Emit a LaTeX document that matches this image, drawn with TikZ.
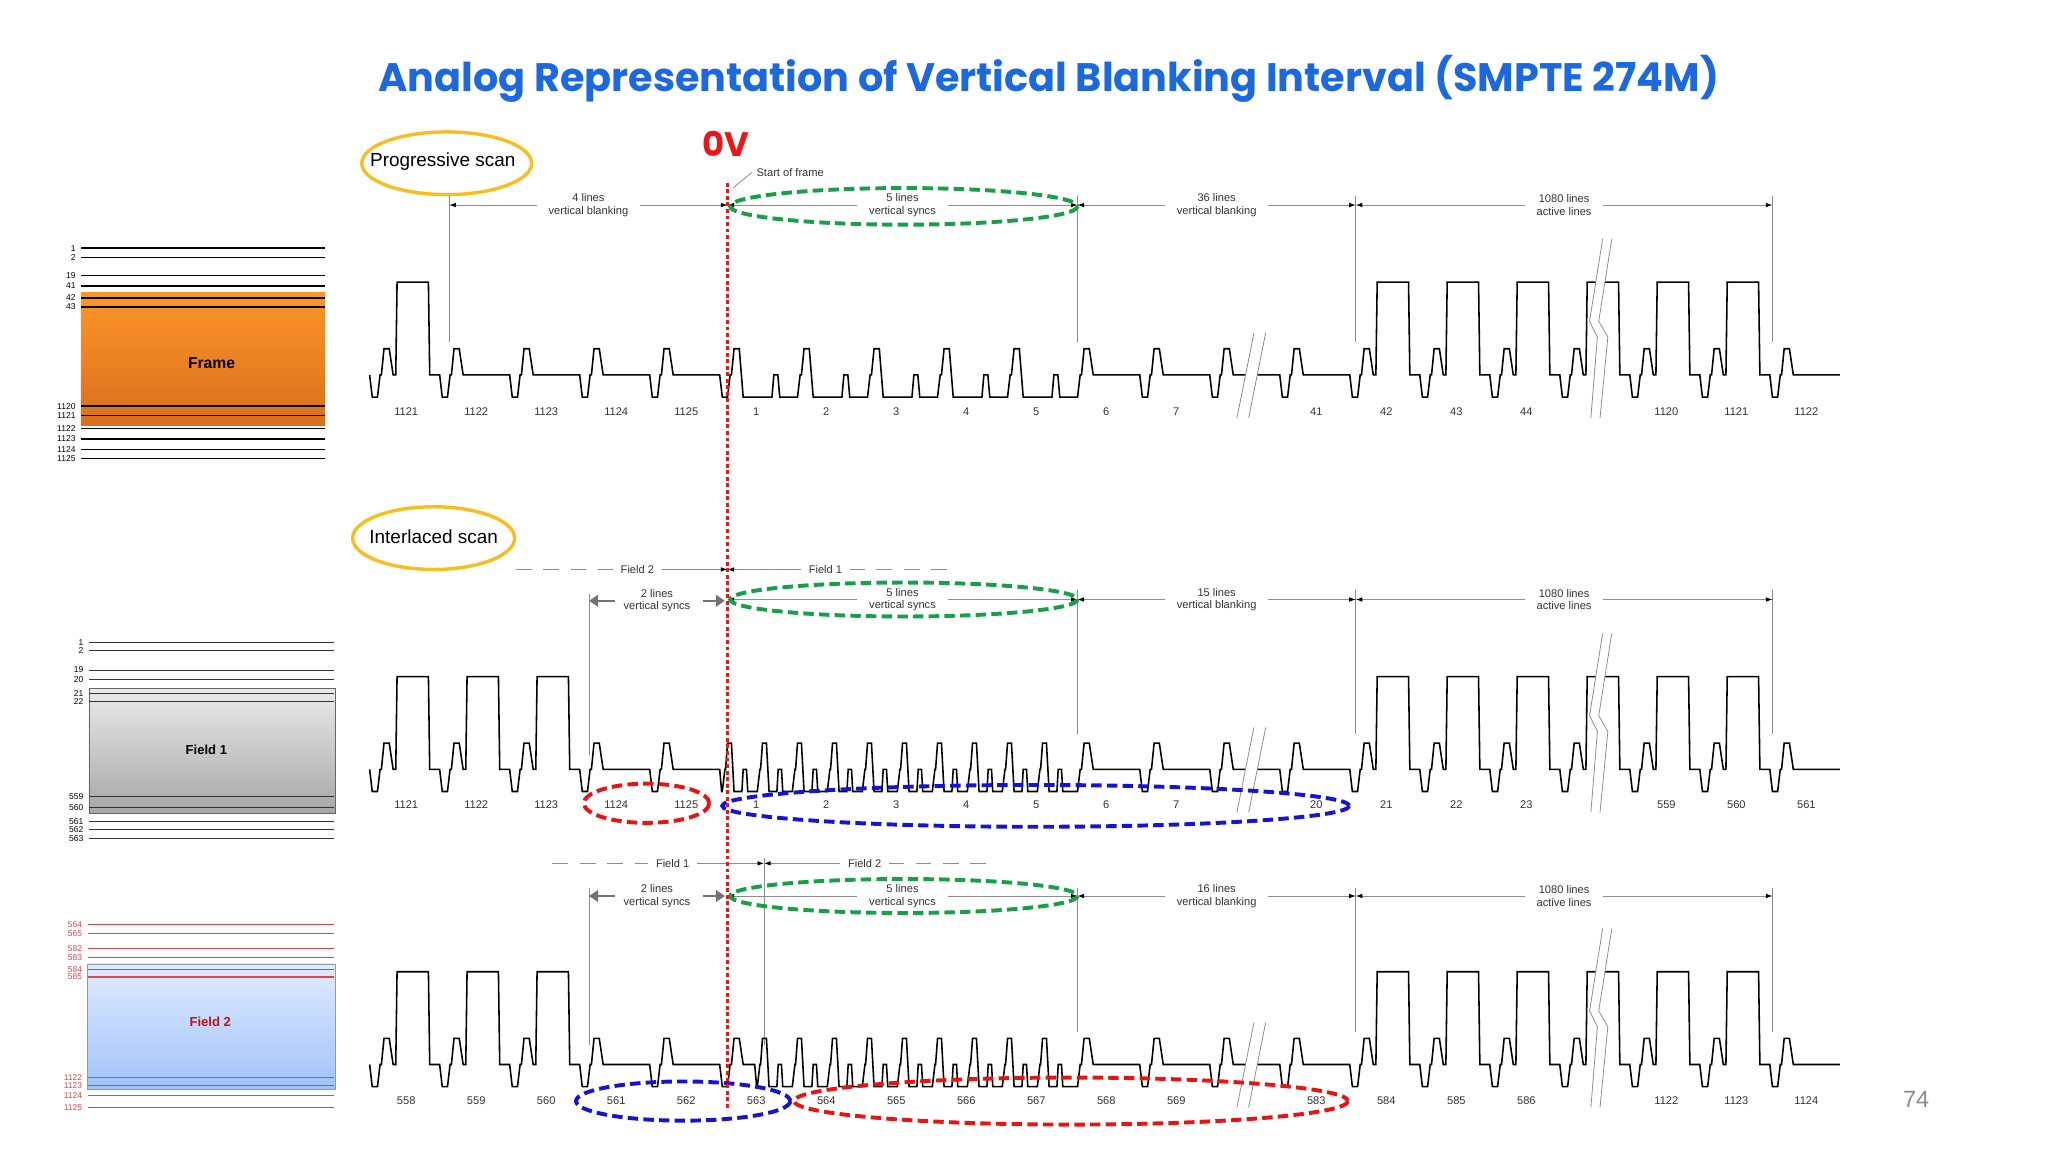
\documentclass[tikz,border=0pt]{standalone}
\usepackage{graphicx}
\usepackage{fontspec}
\setmainfont{Liberation Sans}
\newfontfamily\titlefont{Poppins}
\usetikzlibrary{arrows.meta,calc}
\definecolor{tblue}{RGB}{28,104,222}
\definecolor{ovred}{RGB}{232,24,24}
\definecolor{ygold}{RGB}{247,190,30}
\definecolor{egreen}{RGB}{24,160,72}
\definecolor{eblue}{RGB}{20,20,210}
\definecolor{ered}{RGB}{232,20,20}
\definecolor{lred}{RGB}{220,70,70}
\tikzset{
  wS/.style={insert path={-- ++(2,17) -- ++(4,0) -- ++(2,-17) -- ++(1,0) -- ++(2,-20) -- ++(4,0)}},
  wSL/.style={insert path={-- ++(6,0) -- ++(2,-17) -- ++(1,0) -- ++(2,-20) -- ++(4,0)}},
  wBB/.style={insert path={-- ++(3,20) -- ++(35.6,0)}},
  wAB/.style={insert path={-- ++(3,20) -- ++(2,0) -- ++(1,-71) -- ++(24,0) -- ++(1,71) -- ++(7.6,0)}},
  wVB/.style={insert path={-- ++(3,37) -- ++(22,0) -- ++(1.5,-17) -- ++(3,0) -- ++(1.5,17) -- ++(7.6,0)}},
  wHC/.style={insert path={-- ++(2,-17) -- ++(0.5,0) -- ++(1.5,-20) -- ++(3,0) -- ++(2,37) -- ++(6,0) -- ++(1,-17) -- ++(2.5,0) -- ++(1,17) -- ++(5.3,0)}},
  wHU/.style={insert path={-- ++(2,0)},wHC},
  wHB/.style={insert path={-- ++(1.5,17) -- ++(0.5,0)},wHC},
  wHH/.style={insert path={-- ++(3,20) -- ++(8.8,0)}},
  wave/.style={draw=black,line width=1.2pt,line join=miter},
  lbl/.style={font=\fontsize{8.5}{9}\selectfont,text=black!80},
  dimst/.style={draw=black!45,line width=0.6pt,{Latex[length=5pt,width=3.5pt,color=black]}-{Latex[length=5pt,width=3.5pt,color=black]}},
  dimtxt/.style={fill=white,inner xsep=9pt,inner ysep=1pt,align=center,font=\fontsize{8.5}{9.5}\selectfont,text=black!80},
  ext/.style={draw=black!45,line width=0.6pt},
  scanell/.style={draw=ygold,line width=2.6pt,ellipse-ish},
  ellipse-ish/.style={},
  dell/.style={line width=3pt,dash pattern=on 8pt off 4pt},
  brk/.style={draw=black!45,line width=0.6pt},
  panlbl/.style={anchor=east,font=\fontsize{6.5}{6.5}\selectfont,inner sep=1pt},
  gfat/.style={draw=black!55,line width=2pt,-{Triangle[length=7pt,width=9pt]}},
}
\newcommand\dimline[6]{%
  \coordinate (#1a) at (#2,#4); \coordinate (#1b) at (#3,#4);
  \draw[dimst] (#1a) -- (#1b);
  \node[dimtxt] (#1t) at ($(#1a)!0.5!(#1b)$) {#5\\#6};}
\begin{document}
\begin{tikzpicture}[x=1pt,y=-1pt]
\useasboundingbox[fill=white] (0,0) rectangle (1568,882);
% title
\node (title) at (803,60) {\resizebox{1026pt}{!}{\titlefont\bfseries\color{tblue}Analog Representation of Vertical Blanking Interval (SMPTE 274M)}};
\node[text=ovred,font=\titlefont\bfseries\fontsize{26}{28}\selectfont] (ov) at (556,110) {0V};
\node[text=black!45,font=\fontsize{18}{18}\selectfont] (pg) at (1467,842) {74};

% ===== left panels =====
% Frame
\shade[top color={rgb,255:red,255;green,150;blue,40},bottom color={rgb,255:red,215;green,110;blue,30}] (62,224) rectangle (249,326);
\node[font=\bfseries\fontsize{12}{12}\selectfont] (fr) at (162,278) {Frame};
\foreach \y/\t in {190/1,197/2,211/19,219/41,228/42,235/43,311/1120,318/1121,328/1122,336/1123,344/1124,351/1125}{
  \draw[line width=1.1pt] (62,\y) -- (249,\y);
  \node[panlbl] at (59,\y) {\t};}
% Field 1
\shade[top color=black!8,bottom color=black!35,draw=black!60] (68,527) rectangle (257,623);
\node[font=\bfseries\fontsize{10}{10}\selectfont] (f1) at (158,574) {Field 1};
\foreach \y/\t in {492/1,498/2,513/19,520/20,531/21,537/22,610/559,618/560,629/561,635/562,642/563}{
  \draw[line width=0.8pt,black!80] (68,\y) -- (256,\y);
  \node[panlbl] at (65,\y) {\t};}
% Field 2
\shade[top color={rgb,255:red,225;green,235;blue,255},bottom color={rgb,255:red,160;green,195;blue,250},draw=black!40] (67,738) rectangle (257,834);
\node[font=\bfseries\fontsize{10}{10}\selectfont,text=ered!85!black] (f2) at (161,782) {Field 2};
\foreach \y/\t in {708/564,715/565,726/582,733/583,742/584,748/585,825/1122,831/1123,839/1124,848/1125}{
  \draw[line width=0.8pt,lred] (67,\y) -- (256,\y);
  \node[panlbl,text=lred] at (64,\y) {\t};}

% ===== scan ellipses =====
\draw[draw=ygold,line width=2.6pt] (342,125) ellipse [x radius=65,y radius=24];
\node[font=\fontsize{14.5}{15}\selectfont] (ps) at (339,124) {Progressive scan};
\draw[draw=ygold,line width=2.6pt] (332,412) ellipse [x radius=62,y radius=24];
\node[font=\fontsize{14.5}{15}\selectfont] (is) at (332,411) {Interlaced scan};

% ===== ROW 1 =====
\foreach \x in {344,825,1038,1357} \draw[ext] (\x,150) -- (\x,262);
\dimline{ra}{344}{557}{157}{4 lines}{vertical blanking}
\dimline{rb}{557}{825}{157}{5 lines}{vertical syncs}
\dimline{rc}{825}{1038}{157}{36 lines}{vertical blanking}
\dimline{rd}{1038}{1357}{157}{1080 lines}{active lines}
\node[lbl] (sof) at (605,132) {Start of frame};
\coordinate (sofp) at (561,144);
\draw[ext] (sof.west) -- (sofp);
\draw[wave] (283,287) [wS,wAB] [wS,wBB] [wS,wBB] [wS,wBB] [wS,wBB]
  [wS,wVB] [wSL,wVB] [wSL,wVB] [wSL,wVB] [wSL,wVB] [wSL,wBB]
  [wS,wBB] [wS,wBB] [wS,wBB] [wS,wAB] [wS,wAB] [wS,wAB] [wS,wAB] [wS,wAB] [wS,wAB] [wS,wBB];
\foreach \t [count=\k from 0] in {1121,1122,1123,1124,1125,1,2,3,4,5,6,7,,41,42,43,44,,1120,1121,1122}
  \node[lbl] at ({311+53.6*\k},315) {\t};

% ===== ROW 2 =====
\draw[black!45,line width=0.6pt,dash pattern=on 12pt off 9pt] (395,436) -- (470,436);
\coordinate (f2a) at (470,436); \coordinate (f2b) at (557,436);
\draw[ext,-{Latex[length=5pt,width=3.5pt,color=black]}] (f2a) -- (f2b);
\node[dimtxt,inner xsep=6pt] at (488,436) {Field 2};
\coordinate (f1a) at (557,436); \coordinate (f1b) at (650,436);
\draw[ext,{Latex[length=5pt,width=3.5pt,color=black]}-] (f1a) -- (f1b);
\draw[black!45,line width=0.6pt,dash pattern=on 12pt off 9pt] (650,436) -- (728,436);
\node[dimtxt,inner xsep=6pt] at (632,436) {Field 1};
\draw[ext] (451,455) -- (451,578);
\foreach \x in {825,1038,1357} \draw[ext] (\x,452) -- (\x,562);
\dimline{sb}{557}{825}{459}{5 lines}{vertical syncs}
\dimline{sc}{825}{1038}{459}{15 lines}{vertical blanking}
\dimline{sd}{1038}{1357}{459}{1080 lines}{active lines}
\node[dimtxt] (sa) at (503,460) {2 lines\\vertical syncs};
\coordinate (sal) at (451,460); \coordinate (sar) at (555,460);
\draw[gfat] (471,460) -- (sal);
\draw[gfat] (538,460) -- (sar);
\begin{scope}[shift={(0,302)}]
\draw[wave] (283,287) [wS,wAB] [wS,wAB] [wS,wAB] [wS,wBB] [wS,wBB]
  [wHB] [wHU] [wHU] [wHU] [wHU] [wHU] [wHU] [wHU] [wHU] [wHU] [wSL,wBB]
  [wS,wBB] [wS,wBB] [wS,wBB] [wS,wAB] [wS,wAB] [wS,wAB] [wS,wAB] [wS,wAB] [wS,wAB] [wS,wBB];
\foreach \t [count=\k from 0] in {1121,1122,1123,1124,1125,1,2,3,4,5,6,7,,20,21,22,23,,559,560,561}
  \node[lbl] at ({311+53.6*\k},314) {\t};
\end{scope}

% ===== ROW 3 =====
\draw[black!45,line width=0.6pt,dash pattern=on 12pt off 9pt] (423,661) -- (497,661);
\coordinate (g1a) at (497,661); \coordinate (g1b) at (585,661);
\draw[ext,-{Latex[length=5pt,width=3.5pt,color=black]}] (g1a) -- (g1b);
\node[dimtxt,inner xsep=6pt] at (515,661) {Field 1};
\coordinate (g2a) at (585,661); \coordinate (g2b) at (680,661);
\draw[ext,{Latex[length=5pt,width=3.5pt,color=black]}-] (g2a) -- (g2b);
\draw[black!45,line width=0.6pt,dash pattern=on 12pt off 9pt] (680,661) -- (755,661);
\node[dimtxt,inner xsep=6pt] at (662,661) {Field 2};
\draw[ext] (451,680) -- (451,800);
\draw[ext] (585,657) -- (585,800);
\foreach \x in {825,1038,1357} \draw[ext] (\x,680) -- (\x,790);
\dimline{tb}{557}{825}{686}{5 lines}{vertical syncs}
\dimline{tc}{825}{1038}{686}{16 lines}{vertical blanking}
\dimline{td}{1038}{1357}{686}{1080 lines}{active lines}
\node[dimtxt] (ta) at (503,686) {2 lines\\vertical syncs};
\coordinate (tal) at (451,686); \coordinate (tar) at (555,686);
\draw[gfat] (471,686) -- (tal);
\draw[gfat] (538,686) -- (tar);
\begin{scope}[shift={(0,528)}]
\draw[wave] (283,287) [wS,wAB] [wS,wAB] [wS,wAB] [wS,wBB] [wS,wBB]
  [wS,wHH] [wHB] [wHU] [wHU] [wHU] [wHU] [wHU] [wHU] [wHU] [wHU] [wSL,wBB]
  [wS,wBB] [wS,wBB] [wS,wBB] [wS,wAB] [wS,wAB] [wS,wAB] [wS,wAB] [wS,wAB] [wS,wAB] [wS,wBB];
\foreach \t [count=\k from 0] in {558,559,560,561,562,563,564,565,566,567,568,569,,583,584,585,586,,1122,1123,1124}
  \node[lbl] at ({311+53.6*\k},315) {\t};
\end{scope}

% ===== breaks =====
\foreach \dy in {0,302,528}{
  \begin{scope}[shift={(0,\dy)}]
  \fill[white] (947,320) -- (960,255) -- (969,255) -- (956,320) -- cycle;
  \draw[brk] (947,320) -- (960,255);
  \draw[brk] (956,320) -- (969,255);
  \fill[white] (1218,320) -- (1223,258) -- (1217,246) -- (1227,183) -- (1234,183) -- (1224,246) -- (1231,258) -- (1225,320) -- cycle;
  \draw[brk] (1218,320) -- (1223,258) -- (1217,246) -- (1227,183);
  \draw[brk] (1225,320) -- (1231,258) -- (1224,246) -- (1234,183);
  \end{scope}}

% ===== highlight ellipses =====
\draw[dell,draw=egreen] (692,158) ellipse [x radius=133,y radius=14];
\draw[dell,draw=egreen] (692,459) ellipse [x radius=133,y radius=13];
\draw[dell,draw=egreen] (692,686) ellipse [x radius=133,y radius=13];
\draw[dell,draw=ered] (495,615) ellipse [x radius=48,y radius=15];
\draw[dell,draw=eblue] (793,617) ellipse [x radius=240,y radius=16];
\draw[dell,draw=eblue] (523,843) ellipse [x radius=82,y radius=15];
\draw[dell,draw=ered] (820,843) ellipse [x radius=212,y radius=18];

% 0V line
\coordinate (ovt) at (557,140); \coordinate (ovb) at (557,850);
\draw[ovred,line width=2.6pt,dash pattern=on 3pt off 2pt] (ovt) -- (ovb);
\end{tikzpicture}
\end{document}
